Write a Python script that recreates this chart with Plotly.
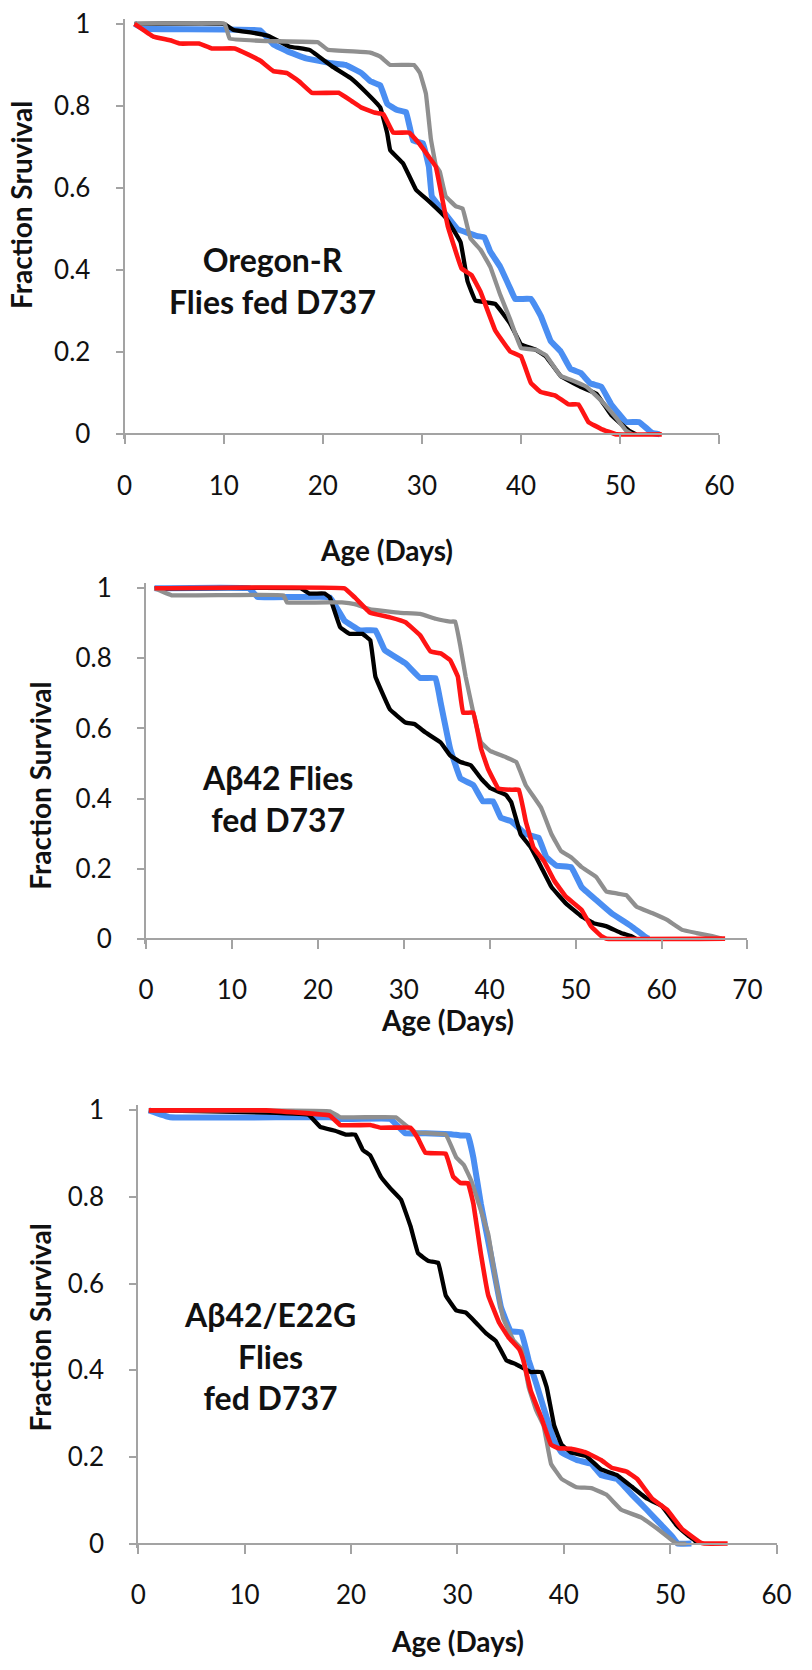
import plotly.graph_objects as go

# ---------------- data ----------------
# Panel 1: Oregon-R
p1_black_x = [1, 10, 11, 13, 14.6, 16.6, 18.7, 20.9, 22.8, 24.2, 25.8, 26.5, 26.8, 28.1, 29.4, 30.7, 32.4, 33.9, 34.6, 35.4, 37.4, 38.9, 40, 41.5, 42.5, 44, 46, 47.6, 49.1, 50.9, 51.6]
p1_black_y = [1, 1, 0.985, 0.978, 0.97, 0.945, 0.936, 0.897, 0.868, 0.837, 0.796, 0.733, 0.692, 0.66, 0.596, 0.568, 0.528, 0.468, 0.373, 0.326, 0.318, 0.27, 0.219, 0.206, 0.19, 0.142, 0.116, 0.099, 0.047, 0.009, 0]
p1_gray_x = [1, 10.1, 10.6, 14.4, 19.5, 20.5, 24.8, 25.8, 26.8, 29.2, 29.8, 30.4, 30.9, 31.4, 31.8, 32.4, 33.4, 34.1, 34.9, 35.9, 36.9, 37.9, 38.9, 40, 41.5, 42.5, 44, 45, 46.6, 48.1, 49.6, 50.6, 51.2]
p1_gray_y = [1, 1, 0.964, 0.958, 0.955, 0.937, 0.93, 0.92, 0.9, 0.9, 0.88, 0.83, 0.72, 0.655, 0.64, 0.58, 0.556, 0.55, 0.477, 0.45, 0.408, 0.34, 0.28, 0.21, 0.206, 0.193, 0.142, 0.133, 0.116, 0.082, 0.04, 0.009, 0]
p1_blue_x = [1, 2, 13.7, 15, 16.4, 18.3, 20.9, 22.3, 23.9, 24.8, 25.8, 26.5, 27.5, 28.4, 29.1, 30.1, 30.7, 31, 32, 33.6, 35.6, 36.3, 36.9, 37.9, 38.9, 39.4, 41, 42, 43, 44, 45, 46, 47, 48.1, 49.1, 50.6, 51.9, 53.2, 54]
p1_blue_y = [1, 0.988, 0.984, 0.95, 0.933, 0.916, 0.904, 0.9, 0.88, 0.86, 0.85, 0.805, 0.79, 0.785, 0.716, 0.709, 0.652, 0.58, 0.548, 0.5, 0.483, 0.48, 0.445, 0.408, 0.356, 0.33, 0.33, 0.288, 0.227, 0.202, 0.159, 0.15, 0.124, 0.116, 0.073, 0.03, 0.03, 0.004, 0]
p1_red_x = [1, 2.9, 4.6, 5.6, 7.5, 8.8, 11.1, 12.5, 13.7, 15, 16.4, 17.6, 18.9, 21.6, 22.9, 23.9, 25.2, 26.1, 27.1, 28.7, 29.7, 30.7, 31.4, 32, 32.6, 34, 35, 35.9, 37.4, 38.9, 40, 41, 42, 43.5, 44.8, 45.8, 46.8, 48.1, 49.6, 54.2]
p1_red_y = [1, 0.969, 0.96, 0.952, 0.952, 0.94, 0.94, 0.925, 0.91, 0.885, 0.88, 0.86, 0.832, 0.832, 0.812, 0.796, 0.784, 0.78, 0.735, 0.735, 0.709, 0.676, 0.652, 0.58, 0.508, 0.404, 0.388, 0.348, 0.253, 0.202, 0.19, 0.125, 0.103, 0.094, 0.073, 0.073, 0.03, 0.013, 0, 0]

# Panel 2: Abeta42
p2_black_x = [1, 18, 19, 20.8, 21.4, 22.6, 23.7, 25.2, 26.1, 26.7, 28.4, 30.2, 31.3, 32.5, 34.3, 35.4, 36.6, 37.8, 39, 40.1, 41.9, 42.5, 43.6, 44.8, 46, 47.2, 48.9, 50.7, 52.1, 53.6, 55.3, 56.5, 57]
p2_black_y = [1, 1, 0.985, 0.985, 0.974, 0.889, 0.87, 0.87, 0.852, 0.748, 0.654, 0.617, 0.612, 0.589, 0.56, 0.523, 0.504, 0.495, 0.457, 0.429, 0.41, 0.39, 0.298, 0.26, 0.204, 0.147, 0.1, 0.063, 0.044, 0.035, 0.016, 0.007, 0]
p2_gray_x = [1, 3, 16, 16.4, 22.8, 24.3, 26.1, 29.6, 31.9, 33.7, 35.4, 36, 36.6, 37.2, 38.1, 39, 40.1, 41.9, 43.1, 44.2, 46, 47.2, 48.3, 49.5, 50.7, 52.4, 53.6, 54.8, 55.9, 57.1, 58.9, 60.6, 62.4, 64.1, 65.9, 67]
p2_gray_y = [1, 0.98, 0.98, 0.96, 0.96, 0.955, 0.94, 0.93, 0.927, 0.913, 0.905, 0.905, 0.833, 0.748, 0.645, 0.56, 0.535, 0.518, 0.504, 0.438, 0.373, 0.298, 0.25, 0.232, 0.204, 0.176, 0.134, 0.129, 0.124, 0.091, 0.073, 0.054, 0.025, 0.016, 0.007, 0]
p2_blue_x = [1, 12, 13, 21.4, 23.1, 24.9, 26.7, 27.8, 30.2, 31.9, 33.7, 34.3, 35.4, 36.6, 38.1, 39.2, 40.4, 41.3, 42.5, 44.2, 45.7, 46.6, 47.8, 49.5, 50.7, 52.4, 54.2, 56.5, 58, 58.5]
p2_blue_y = [1, 1, 0.975, 0.974, 0.908, 0.88, 0.88, 0.823, 0.786, 0.744, 0.744, 0.673, 0.542, 0.457, 0.438, 0.392, 0.392, 0.345, 0.335, 0.298, 0.288, 0.232, 0.208, 0.204, 0.147, 0.11, 0.072, 0.035, 0.007, 0]
p2_red_x = [1, 23.1, 24.3, 26.1, 28.4, 30.2, 31.9, 33.1, 34.3, 35.4, 36.3, 36.9, 38.1, 39, 39.8, 41, 42.5, 43.4, 44.2, 45.1, 46.3, 47.5, 48.9, 50.7, 51.8, 53, 53.6, 67.4]
p2_red_y = [1, 1, 0.974, 0.93, 0.917, 0.903, 0.866, 0.82, 0.814, 0.795, 0.748, 0.645, 0.645, 0.542, 0.485, 0.429, 0.425, 0.425, 0.335, 0.26, 0.222, 0.166, 0.119, 0.082, 0.035, 0.007, 0, 0]

# Panel 3: Abeta42/E22G
p3_black_x = [1, 16, 17.1, 18.5, 19.5, 20.4, 21.1, 21.8, 22.8, 23.7, 24.7, 25.6, 26.3, 27.3, 28.2, 28.9, 29.9, 30.8, 31.7, 32.7, 33.6, 34.6, 35.5, 36.9, 37.9, 38.4, 39.1, 39.8, 40.7, 42.1, 43.5, 45, 46.4, 47.8, 49.2, 50.6, 51.6, 52.3, 52.6]
p3_black_y = [1, 0.99, 0.962, 0.953, 0.944, 0.944, 0.909, 0.896, 0.847, 0.82, 0.794, 0.732, 0.67, 0.652, 0.648, 0.573, 0.538, 0.533, 0.511, 0.485, 0.468, 0.423, 0.414, 0.396, 0.396, 0.36, 0.272, 0.228, 0.21, 0.202, 0.171, 0.158, 0.131, 0.104, 0.087, 0.042, 0.02, 0.007, 0]
p3_gray_x = [1, 18, 19, 24.2, 25.1, 26.1, 28.9, 29.9, 30.6, 31.3, 32, 32.9, 33.6, 34.3, 35.3, 36, 36.7, 37.4, 38.1, 38.8, 39.8, 41.2, 42.6, 44, 45.4, 47.3, 48.8, 50.2, 50.6, 51.5]
p3_gray_y = [1, 0.998, 0.984, 0.984, 0.966, 0.949, 0.944, 0.891, 0.874, 0.838, 0.785, 0.714, 0.608, 0.52, 0.468, 0.45, 0.361, 0.308, 0.272, 0.184, 0.149, 0.13, 0.128, 0.113, 0.078, 0.06, 0.034, 0.007, 0, 0]
p3_blue_x = [1, 3, 18, 19, 23.7, 25.1, 27, 29.4, 30.3, 31, 31.5, 32.2, 33.2, 34.1, 35, 36, 36.7, 37.4, 38.4, 39.1, 39.8, 41.2, 42.6, 43.5, 45, 46.4, 47.8, 49.2, 50.2, 50.7, 52]
p3_blue_y = [1, 0.984, 0.984, 0.98, 0.98, 0.947, 0.947, 0.945, 0.942, 0.942, 0.891, 0.785, 0.66, 0.545, 0.49, 0.488, 0.423, 0.37, 0.29, 0.237, 0.21, 0.193, 0.184, 0.158, 0.149, 0.113, 0.078, 0.042, 0.016, 0, 0]
p3_red_x = [1, 12, 18, 19, 21.8, 22.8, 25.6, 26.3, 27, 28.9, 29.6, 30.3, 31, 31.5, 32.2, 32.9, 33.9, 34.8, 35.8, 36.2, 36.9, 37.9, 38.8, 39.5, 40.7, 42.1, 43.5, 44.5, 45.9, 46.9, 48.3, 49.7, 51.1, 52.8, 53.2, 55.4]
p3_red_y = [1, 1, 0.988, 0.966, 0.966, 0.96, 0.96, 0.935, 0.902, 0.9, 0.847, 0.832, 0.832, 0.785, 0.67, 0.573, 0.511, 0.476, 0.449, 0.423, 0.352, 0.29, 0.228, 0.22, 0.219, 0.21, 0.193, 0.175, 0.166, 0.149, 0.104, 0.078, 0.034, 0.003, 0, 0]

y_tick_vals = [0, 0.2, 0.4, 0.6, 0.8, 1]
y_tick_text = ["0", "0.2", "0.4", "0.6", "0.8", "1"]
x_max = [60, 70, 60]
y_titles = ["Fraction Sruvival", "Fraction Survival", "Fraction Survival"]
x_title = "Age (Days)"
panel_labels = ["Oregon-R<br>Flies fed D737", "A\u03b242 Flies<br>fed D737", "A\u03b242/E22G<br>Flies<br>fed D737"]

# ---------------- styling / layout (page pixels) ----------------
W, H = 812, 1670

colors = {"blue": "#4a8ef2", "black": "#000000", "gray": "#8f8f8f", "red": "#ff1414"}
widths = {"blue": 6, "black": 4.3, "gray": 4.3, "red": 4.6}
AX = "#a3a3a3"
FONT = "Lato"

panels = [
    dict(x0=120, x1=732, yt=12, yb=428, ytitle=(14, 196), xtitle=(390, 545), label=(272, 272)),
    dict(x0=142, x1=761, yt=584, yb=939, ytitle=(33, 784), xtitle=(452, 1021), label=(277, 797)),
    dict(x0=134, x1=791, yt=1113, yb=1552, ytitle=(33, 1333), xtitle=(463, 1651), label=(270, 1362)),
]
series = [
    [("blue", p1_blue_x, p1_blue_y), ("black", p1_black_x, p1_black_y), ("gray", p1_gray_x, p1_gray_y), ("red", p1_red_x, p1_red_y)],
    [("blue", p2_blue_x, p2_blue_y), ("black", p2_black_x, p2_black_y), ("gray", p2_gray_x, p2_gray_y), ("red", p2_red_x, p2_red_y)],
    [("blue", p3_blue_x, p3_blue_y), ("black", p3_black_x, p3_black_y), ("gray", p3_gray_x, p3_gray_y), ("red", p3_red_x, p3_red_y)],
]

fig = go.Figure()
annotations = []
PAD = 5


def px_x(v):
    return v / W


def px_y(v):
    return 1 - v / H


for i, (p, ser) in enumerate(zip(panels, series)):
    n = "" if i == 0 else str(i + 1)
    xa, ya = "xaxis" + n, "yaxis" + n
    for name, xs, ys in ser:
        fig.add_trace(go.Scatter(x=xs, y=ys, mode="lines", xaxis="x" + n, yaxis="y" + n,
                                 line=dict(color=colors[name], width=widths[name],
                                           shape="spline", smoothing=0.2),
                                 showlegend=False, hoverinfo="skip"))
    hpx = p["yb"] - p["yt"]
    pad_top = min(PAD, p["yt"])
    pad_bot = PAD
    fig.layout[xa] = dict(domain=[px_x(p["x0"]), px_x(p["x1"])], range=[0, x_max[i]],
                          anchor="free", position=px_y(p["yb"]),
                          showline=True, linecolor=AX, linewidth=2, ticks="outside",
                          ticklen=9, tickwidth=2, tickcolor=AX, dtick=10, tick0=0,
                          showgrid=False, zeroline=False, ticklabelstandoff=19,
                          ticklabeloverflow="allow",
                          tickfont=dict(family=FONT, size=26, color="#111"))
    fig.layout[ya] = dict(domain=[px_y(p["yb"] + pad_bot), px_y(p["yt"] - pad_top)],
                          range=[-pad_bot / hpx, 1 + pad_top / hpx],
                          anchor="x" + n, showline=True, linecolor=AX, linewidth=2,
                          ticks="outside", ticklen=7, tickwidth=2, tickcolor=AX,
                          tickvals=y_tick_vals, ticktext=y_tick_text,
                          showgrid=False, zeroline=False, ticklabelstandoff=20,
                          ticklabeloverflow="allow",
                          tickfont=dict(family=FONT, size=26, color="#111"))
    annotations.append(dict(text="<b>" + y_titles[i] + "</b>", xref="paper", yref="paper",
                            x=px_x(p["ytitle"][0]), y=px_y(p["ytitle"][1]), textangle=-90,
                            showarrow=False, xanchor="center", yanchor="middle",
                            font=dict(family=FONT, size=28, color="#111")))
    annotations.append(dict(text="<b>" + x_title + "</b>", xref="paper", yref="paper",
                            x=px_x(p["xtitle"][0]), y=px_y(p["xtitle"][1]),
                            showarrow=False, xanchor="center", yanchor="middle",
                            font=dict(family=FONT, size=28, color="#111")))
    annotations.append(dict(text="<b>" + panel_labels[i] + "</b>", xref="paper", yref="paper",
                            x=px_x(p["label"][0]), y=px_y(p["label"][1]),
                            showarrow=False, xanchor="center", yanchor="middle",
                            font=dict(family=FONT, size=32, color="#111")))

fig.update_layout(width=W, height=H, margin=dict(l=0, r=0, t=0, b=0),
                  paper_bgcolor="white", plot_bgcolor="white",
                  annotations=annotations, showlegend=False, hovermode=False)

# remove the browser's default 8px body margin so the figure sits at (0, 0)
fig.write_html("out.html", config={"displayModeBar": False, "staticPlot": True},
               post_script="document.body.style.margin='0';")
